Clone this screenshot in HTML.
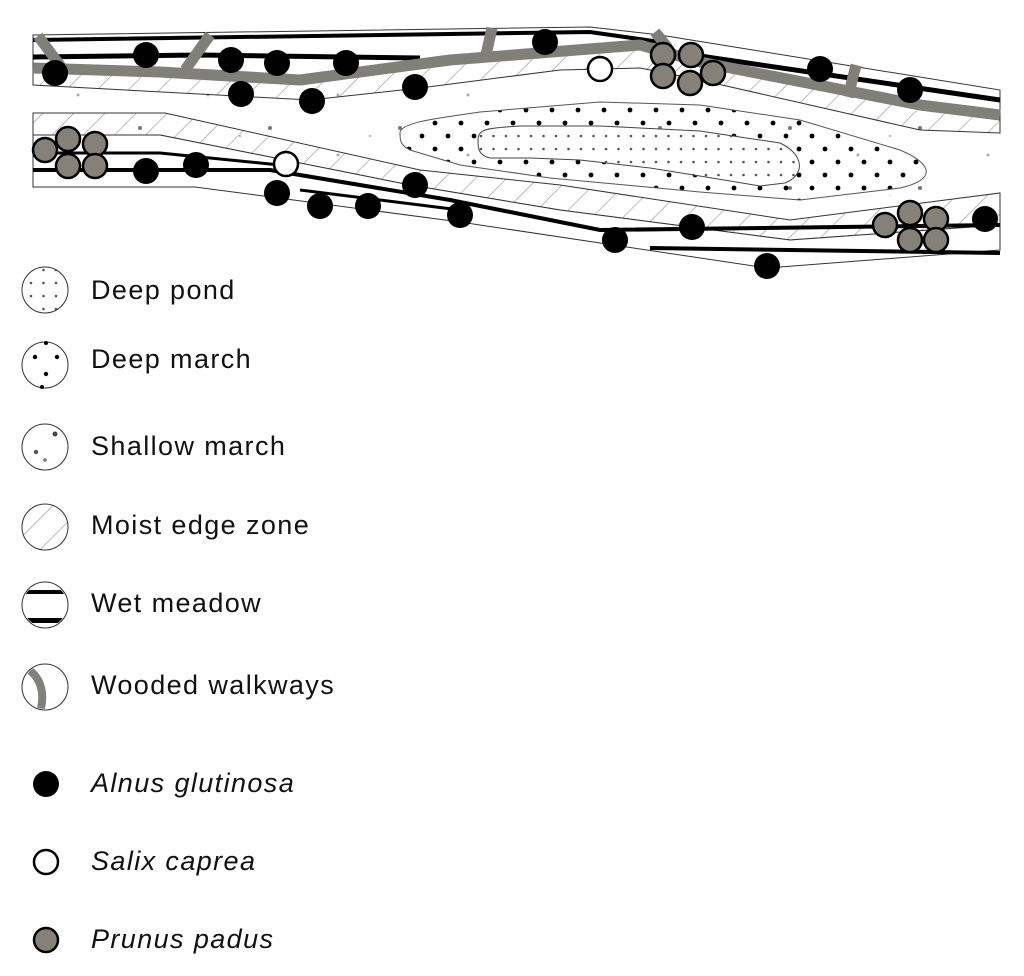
<!DOCTYPE html>
<html><head><meta charset="utf-8"><style>
html,body{margin:0;padding:0;background:#fff;}
svg{display:block;}
text{font-family:"Liberation Sans",sans-serif;font-size:27px;fill:#111;letter-spacing:1.4px;}
</style></head><body>
<svg width="1024" height="976" viewBox="0 0 1024 976" xmlns="http://www.w3.org/2000/svg">
<defs>
<pattern id="hatch" width="22" height="22" patternUnits="userSpaceOnUse" patternTransform="rotate(45)">
<line x1="0" y1="0" x2="0" y2="22" stroke="#999" stroke-width="1.3"/>
</pattern>
<pattern id="dm" width="26" height="26" patternUnits="userSpaceOnUse">
<circle cx="6" cy="6" r="2.4" fill="#000"/><circle cx="19" cy="19" r="2.4" fill="#000"/>
</pattern>
<pattern id="dp" width="12.5" height="13" patternUnits="userSpaceOnUse">
<circle cx="6" cy="6" r="1.3" fill="#555"/>
</pattern>
<pattern id="sm" width="130" height="60" patternUnits="userSpaceOnUse">
<circle cx="10" cy="8" r="2" fill="#777"/><circle cx="78" cy="35" r="1.5" fill="#aaa"/><circle cx="110" cy="16" r="1.2" fill="#bbb"/>
</pattern>
<clipPath id="lc"><circle cx="45" cy="0" r="22"/></clipPath>
</defs>

<path d="M33,80 L1000,110 L1000,200 L33,160 Z" fill="url(#sm)"/>

<path d="M33,35 L590,27 L660,35 L1000,90 L1000,120 L920,105 L700,60 L640,45 L450,60 L300,80 L160,72 L33,68 Z" fill="#fff" stroke="#333" stroke-width="1"/>
<path d="M33,40 L590,32 L660,42" fill="none" stroke="#000" stroke-width="4"/>
<path d="M33,57 L200,55 L420,58" fill="none" stroke="#000" stroke-width="5"/>
<path d="M700,56 L1000,100" fill="none" stroke="#000" stroke-width="5"/>

<path d="M33,68 L160,72 L300,80 L450,60 L640,45 L700,60 L920,105 L1000,115 L1000,133 L920,130 L700,80 L640,68 L560,70 L420,88 L310,100 L33,85 Z" fill="url(#hatch)" stroke="#333" stroke-width="1"/>

<g stroke="#808079" stroke-width="11" fill="none" stroke-linejoin="round">
<path d="M33,68 L160,72 L300,80 L450,60 L640,45 L700,62 L920,105 L1000,115"/>
<path d="M38,36 L62,68"/><path d="M210,35 L185,70"/><path d="M492,28 L486,55"/><path d="M655,32 L668,48"/><path d="M856,65 L848,97"/>
</g>

<path d="M33,113 L165,113 L420,170 L560,185 L790,220 L1000,193 L1000,225 L790,240 L560,210 L410,185 L160,135 L33,135 Z" fill="url(#hatch)" stroke="#333" stroke-width="1"/>

<path d="M33,135 L160,135 L410,185 L560,210 L790,240 L1000,225 L1000,250 L767,268 L460,222 L195,187 L33,187 Z" fill="#fff" stroke="#333" stroke-width="1"/>
<path d="M33,170 L270,170 L450,200 L600,230 L1000,225" fill="none" stroke="#000" stroke-width="4"/>
<path d="M33,153 L160,153 L280,165" fill="none" stroke="#000" stroke-width="3"/>
<path d="M650,248 L1000,253" fill="none" stroke="#000" stroke-width="4"/>
<path d="M300,190 L460,210" fill="none" stroke="#000" stroke-width="3"/>

<path d="M400,133 C400,122 440,118 480,112 L600,102 L700,105 L800,120 L900,150 C935,165 935,180 900,188 L800,200 L700,192 L550,178 L460,165 L410,150 C400,145 400,140 400,133 Z" fill="url(#dm)" stroke="#555" stroke-width="1"/>
<path d="M478,140 C478,128 490,128 520,126 L600,126 L700,131 L780,143 C805,155 805,175 785,183 L760,186 L700,176 L650,168 L580,160 L530,158 L490,158 C478,155 478,148 478,140 Z" fill="#fff" stroke="#444" stroke-width="1"/>
<path d="M478,140 C478,128 490,128 520,126 L600,126 L700,131 L780,143 C805,155 805,175 785,183 L760,186 L700,176 L650,168 L580,160 L530,158 L490,158 C478,155 478,148 478,140 Z" fill="url(#dp)"/>

<g fill="#000">
<circle cx="55" cy="73" r="13"/><circle cx="146" cy="55" r="13"/><circle cx="231" cy="60" r="13"/><circle cx="277" cy="63" r="13"/><circle cx="346" cy="63" r="13"/><circle cx="241" cy="94" r="13"/><circle cx="312" cy="101" r="13"/><circle cx="415" cy="87" r="13"/><circle cx="545" cy="42" r="13"/><circle cx="820" cy="69" r="13"/><circle cx="910" cy="90" r="13"/>
<circle cx="146" cy="171" r="13"/><circle cx="196" cy="165" r="13"/><circle cx="277" cy="193" r="13"/><circle cx="320" cy="206" r="13"/><circle cx="368" cy="206" r="13"/><circle cx="415" cy="185" r="13"/><circle cx="460" cy="215" r="13"/><circle cx="615" cy="240" r="13"/><circle cx="692" cy="227" r="13"/><circle cx="767" cy="266" r="13"/><circle cx="985" cy="219" r="13"/>
</g>
<g fill="#fff" stroke="#000" stroke-width="2.5">
<circle cx="600" cy="69" r="12"/><circle cx="286" cy="164" r="12"/>
</g>
<g fill="#858179" stroke="#000" stroke-width="2.5">
<circle cx="45" cy="150" r="12"/><circle cx="68" cy="139" r="12"/><circle cx="95" cy="144" r="12"/><circle cx="68" cy="166" r="12"/><circle cx="95" cy="166" r="12"/>
<circle cx="663" cy="55" r="12"/><circle cx="691" cy="55" r="12"/><circle cx="713" cy="73" r="12"/><circle cx="663" cy="76" r="12"/><circle cx="690" cy="83" r="12"/>
<circle cx="885" cy="225" r="12"/><circle cx="910" cy="213" r="12"/><circle cx="936" cy="219" r="12"/><circle cx="910" cy="240" r="12"/><circle cx="936" cy="240" r="12"/>
</g>

<g transform="translate(0,290)"><circle cx="45" cy="0" r="23" fill="url(#dp)" stroke="#333" stroke-width="1"/><text x="91" y="9">Deep pond</text></g>
<g transform="translate(0,365)"><circle cx="45" cy="0" r="23" fill="#fff" stroke="#333" stroke-width="1"/>
<circle cx="35" cy="-8" r="2.2"/><circle cx="57" cy="-8" r="2.2"/><circle cx="46" cy="9" r="2.2"/><circle cx="46" cy="-22" r="2"/><circle cx="42" cy="22" r="2"/>
<text x="91" y="3">Deep march</text></g>
<g transform="translate(0,447)"><circle cx="45" cy="0" r="23" fill="#fff" stroke="#333" stroke-width="1"/>
<circle cx="55" cy="-13" r="2.5" fill="#444"/><circle cx="36" cy="5" r="2.2" fill="#555"/><circle cx="45" cy="13" r="1.8" fill="#777"/>
<text x="91" y="8">Shallow march</text></g>
<g transform="translate(0,527)"><circle cx="45" cy="0" r="23" fill="url(#hatch)" stroke="#333" stroke-width="1"/><text x="91" y="7">Moist edge zone</text></g>
<g transform="translate(0,605)"><circle cx="45" cy="0" r="23" fill="#fff" stroke="#333" stroke-width="1"/>
<g clip-path="url(#lc)"><rect x="20" y="-15" width="50" height="4" fill="#000"/><rect x="20" y="13" width="50" height="5" fill="#000"/></g>
<text x="91" y="7">Wet meadow</text></g>
<g transform="translate(0,687)"><circle cx="45" cy="0" r="23" fill="#fff" stroke="#333" stroke-width="1"/>
<g clip-path="url(#lc)"><path d="M28,-18 C42,-8 45,8 40,25" fill="none" stroke="#808079" stroke-width="8"/></g>
<text x="91" y="7">Wooded walkways</text></g>

<circle cx="46" cy="784" r="13" fill="#000"/>
<text x="91" y="792" font-style="italic">Alnus glutinosa</text>
<circle cx="46" cy="862" r="12" fill="#fff" stroke="#000" stroke-width="2.5"/>
<text x="91" y="870" font-style="italic">Salix caprea</text>
<circle cx="46" cy="940" r="12" fill="#858179" stroke="#000" stroke-width="2.5"/>
<text x="91" y="948" font-style="italic">Prunus padus</text>
</svg>
</body></html>
